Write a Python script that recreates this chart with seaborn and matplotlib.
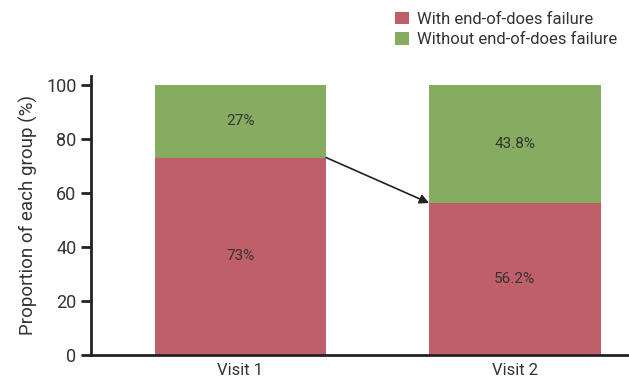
import matplotlib
matplotlib.use('Agg')
import matplotlib.pyplot as plt
import seaborn as sns
import pandas as pd

# data
visits = ['Visit 1', 'Visit 2']
with_failure = [73, 56.2]
without_failure = [27, 43.8]
with_labels = ['73%', '56.2%']
without_labels = ['27%', '43.8%']

red = '#BF5F69'
green = '#86AD5F'

sns.set_style('white')
plt.rcParams['font.family'] = ['Liberation Sans Narrow', 'Roboto', 'DejaVu Sans']

df = pd.DataFrame({'visit': visits,
                   'with': with_failure,
                   'without': without_failure})
df['total'] = df['with'] + df['without']

fig = plt.figure(figsize=(6.29, 3.88), dpi=100)
ax = fig.add_axes([0.145, 0.085, 0.855, 0.72])

# stacked bars: total (green) first, then the red part over it
sns.barplot(data=df, x='visit', y='total', color=green, width=0.625,
            saturation=1, ax=ax, label='Without end-of-does failure', linewidth=0)
sns.barplot(data=df, x='visit', y='with', color=red, width=0.625,
            saturation=1, ax=ax, label='With end-of-does failure', linewidth=0)

for i in range(len(visits)):
    ax.text(i, with_failure[i] / 2, with_labels[i], ha='center', va='center',
            fontsize=11, color='#333333')
    ax.text(i, with_failure[i] + without_failure[i] / 2, without_labels[i],
            ha='center', va='center', fontsize=11, color='#333333')

# arrow from visit 1 to visit 2
ax.annotate('', xy=(1 - 0.3125, with_failure[1]), xytext=(0.3125, with_failure[0]),
            arrowprops=dict(arrowstyle='-|>', color='#222222', lw=1.2,
                            mutation_scale=14, shrinkA=0, shrinkB=0))

ax.set_xlim(-0.544, 1.416)
ax.set_ylim(0, 103.3)
ax.set_yticks([0, 20, 40, 60, 80, 100])
ax.set_xlabel('')
ax.set_ylabel('Proportion of each group (%)', fontsize=13.5, color='#333333', labelpad=6)
ax.tick_params(axis='y', direction='out', length=7, width=2, left=True,
               labelsize=13, labelcolor='#333333', colors='#222222')
ax.tick_params(axis='x', length=0, labelsize=12, labelcolor='#333333', pad=6)
for s in ['top', 'right']:
    ax.spines[s].set_visible(False)
for s in ['left', 'bottom']:
    ax.spines[s].set_linewidth(2)
    ax.spines[s].set_color('#222222')

handles, labels = ax.get_legend_handles_labels()
if ax.get_legend() is not None:
    ax.get_legend().remove()
order = [labels.index('With end-of-does failure'), labels.index('Without end-of-does failure')]
fig.legend([handles[k] for k in order], [labels[k] for k in order],
           loc='upper right', bbox_to_anchor=(1.0, 1.0), frameon=False,
           fontsize=12, handlelength=0.8, handleheight=0.8, handletextpad=0.5,
           labelspacing=0.3, borderaxespad=0.3, labelcolor='#333333')

fig.savefig('out.png', dpi=100)
